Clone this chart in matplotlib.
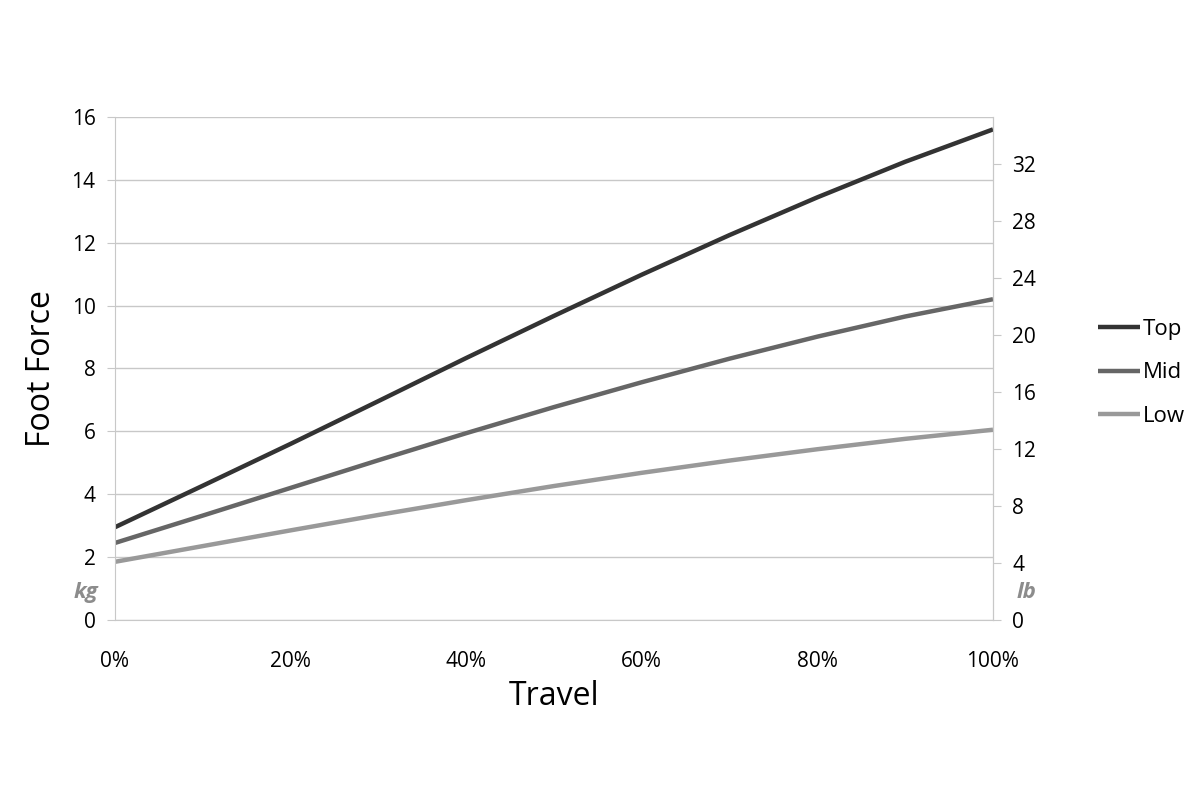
import matplotlib
matplotlib.use("Agg")
import matplotlib.pyplot as plt
from matplotlib.ticker import FuncFormatter

plt.rcParams["font.family"] = ["Open Sans", "DejaVu Sans"]

travel = [0, 10, 20, 30, 40, 50, 60, 70, 80, 90, 100]
top = [2.95, 4.27, 5.6, 6.96, 8.33, 9.67, 10.98, 12.24, 13.44, 14.57, 15.6]
mid = [2.45, 3.32, 4.2, 5.08, 5.94, 6.77, 7.56, 8.31, 9.01, 9.65, 10.2]
low = [1.85, 2.35, 2.85, 3.34, 3.81, 4.26, 4.68, 5.07, 5.43, 5.76, 6.05]
series = {"Top": top, "Mid": mid, "Low": low}
colors = {"Top": "#333333", "Mid": "#666666", "Low": "#999999"}

KG_TO_LB = 2.20462
grid_gray = "#c8c8c8"

fig = plt.figure(figsize=(12, 8), dpi=100)
ax = fig.add_axes([0.0958, 0.225, 0.7317, 0.629])

for name, vals in series.items():
    ax.plot(travel, vals, color=colors[name], lw=3.2, label=name,
            solid_capstyle="butt", solid_joinstyle="round")

ax.set_xlim(0, 100)
ax.set_ylim(0, 16)
ax.set_xticks(range(0, 101, 20))
ax.xaxis.set_major_formatter(FuncFormatter(lambda v, p: f"{v:.0f}%"))
ax.set_yticks(range(0, 17, 2))
ax.grid(axis="y", color=grid_gray, lw=1)
ax.set_axisbelow(True)
ax.spines["top"].set_visible(False)
for s in ["left", "bottom", "right"]:
    ax.spines[s].set_color(grid_gray)
ax.tick_params(axis="y", length=6, color=grid_gray, labelsize=15, pad=8)
ax.tick_params(axis="x", length=0, labelsize=15, pad=22)

ax.set_xlabel("Travel", fontsize=23, labelpad=6)
ax.set_ylabel("Foot Force", fontsize=23, labelpad=10)

ax2 = ax.twinx()
ax2.set_ylim(0, 16 * KG_TO_LB)
ax2.set_yticks(range(0, 33, 4))
for s in ["top", "left", "bottom"]:
    ax2.spines[s].set_visible(False)
ax2.spines["right"].set_color(grid_gray)
ax2.tick_params(axis="y", length=6, color=grid_gray, labelsize=15, pad=8)

ax.text(-0.033, 0.055, "kg", transform=ax.transAxes, ha="center", va="center",
        fontsize=16, fontweight="bold", style="italic", color="#8c8c8c")
ax2.text(1.038, 0.055, "lb", transform=ax.transAxes, ha="center", va="center",
         fontsize=16, fontweight="bold", style="italic", color="#8c8c8c")

ax.legend(loc="center left", bbox_to_anchor=(1.097, 0.491), frameon=False,
          fontsize=16, handlelength=1.9, handletextpad=0.1, labelspacing=1.0)

fig.savefig("out.png", dpi=100)
